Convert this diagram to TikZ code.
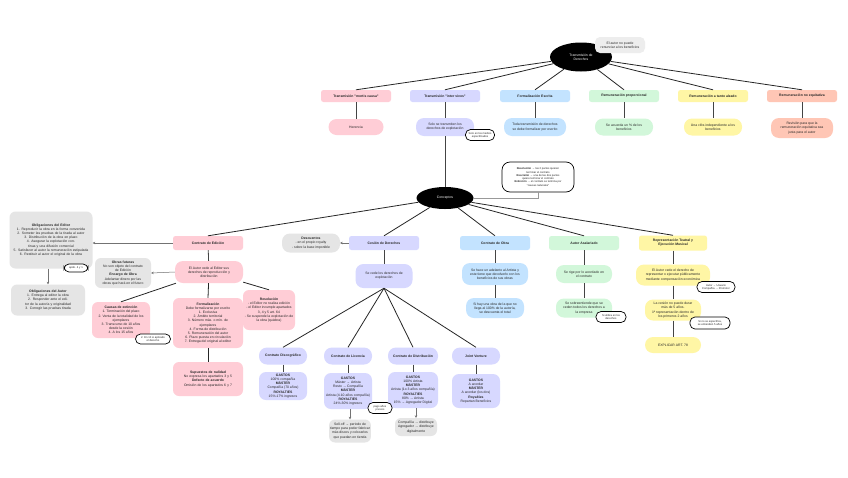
\documentclass[tikz,border=0pt]{standalone}
\usepackage{fontspec}
\setmainfont{Liberation Sans}
\usetikzlibrary{shapes.geometric,arrows.meta}
\definecolor{cpink}{HTML}{FFCDD6}
\definecolor{clav}{HTML}{D7D8FF}
\definecolor{cblue}{HTML}{C3E3FF}
\definecolor{cgreen}{HTML}{D2F7DA}
\definecolor{cyel}{HTML}{FFF6A5}
\definecolor{csal}{HTML}{FFC6B5}
\definecolor{cgray}{HTML}{E5E5E5}
\definecolor{cline}{HTML}{444444}
\begin{document}
\begin{tikzpicture}[x=1pt,y=-1pt,
  every node/.style={font=\fontsize{3.4}{4.2}\selectfont, inner sep=1pt, align=center, text=black!85},
  ttl/.style={rectangle, rounded corners=2.5pt, minimum width=70pt, minimum height=12pt, font=\fontsize{3.4}{4.2}\selectfont\bfseries},
  pill/.style={rectangle, rounded corners=8pt},
  rbox/.style={rectangle, rounded corners=6pt},
  note/.style={rectangle, rounded corners=5pt, draw=black, line width=0.7pt, fill=white, font=\fontsize{2.7}{3.3}\selectfont, inner sep=1pt},
  blk/.style={ellipse, fill=black, text=white},
  ln/.style={draw=black!85, line width=0.8pt},
  gl/.style={draw=cline, line width=0.8pt},
  ar/.style={draw=black!55, line width=0.5pt, -{Stealth[length=2.5pt,width=2.5pt]}},
  kt/.style={pill, fill=clav, minimum width=48pt, minimum height=17pt, font=\fontsize{3.4}{4.2}\selectfont\bfseries},
]
\useasboundingbox (0,0) rectangle (848,477);
\fill[white] (0,0) rectangle (848,477);

% top
\node[blk, minimum width=62pt, minimum height=29pt] (T) at (581,57) {Transmisión de\\Derechos};
\node[rbox, fill=cgray!70, rounded corners=5pt, minimum width=50pt, minimum height=16pt] (N0) at (620,45) {El autor no puede\\renunciar a los beneficios};

% row 2
\node[ttl, fill=cpink] (M) at (356,96) {Transmisión "mortis causa"};
\node[ttl, fill=clav] (I) at (445,96) {Transmisión "inter vivos"};
\node[ttl, fill=cblue] (F) at (535,96) {Formalización Escrita};
\node[ttl, fill=cgreen] (P) at (624,96) {Remuneración proporcional};
\node[ttl, fill=cyel] (A) at (713,96) {Remuneración a tanto alzado};
\node[ttl, fill=csal] (Q) at (802,96) {Remuneración no equitativa};

% row 3
\node[pill, fill=cpink, minimum width=55pt, minimum height=16pt] (M2) at (356,127) {Herencia};
\node[pill, fill=clav, minimum width=58pt, minimum height=18pt] (I2) at (445,127) {Solo se transmiten los\\derechos de explotación};
\node[pill, fill=cblue, minimum width=62pt, minimum height=18pt] (F2) at (535,127) {Toda transmisión de derechos\\se debe formalizar por escrito};
\node[pill, fill=cgreen, minimum width=58pt, minimum height=17pt] (P2) at (624,127) {Se acuerda un \% de los\\beneficios};
\node[pill, fill=cyel, minimum width=58pt, minimum height=17pt] (A2) at (713,127) {Una cifra independiente a los\\beneficios};
\node[pill, fill=csal, minimum width=62pt, minimum height=20pt] (Q2) at (802,128) {Revisión para que la\\remuneración equitativa sea\\justa para el autor};
\node[note, minimum width=29pt, minimum height=11pt] (I2n) at (480,135) {Solo en los medios\\especificados};

\foreach \s in {M,I,F,P,A,Q} \draw[ln] (T) -- (\s.north);
\foreach \s in {M,I,F,P,A,Q} \draw[gl] (\s) -- (\s2);

% conceptos
\node[blk, minimum width=57pt, minimum height=22pt] (C) at (445,198) {Conceptos};
\node[note, rounded corners=8pt, minimum width=72pt, minimum height=30pt] (Cn) at (538,177) {\textbf{Resolución} → las 2 partes quieren\\terminar el contrato\\\textbf{Rescisión} → una de las dos partes\\quiere terminar el contrato\\\textbf{Extinción} → el contrato se termina por\\"causas naturales"};
\draw[draw=black!40, line width=0.6pt] (C.east) -| (Cn.south);
\draw[gl] (I2) -- (C);

% row 4
\node[ttl, fill=cpink, minimum height=14pt] (E) at (208,243) {Contrato de Edición};
\node[ttl, fill=clav, minimum height=14pt] (D) at (384,243) {Cesión de Derechos};
\node[ttl, fill=cblue, minimum height=14pt] (O) at (495,243) {Contrato de Obra};
\node[ttl, fill=cgreen, minimum height=14pt] (S) at (584,243) {Autor Asalariado};
\node[ttl, fill=cyel, minimum width=68pt, minimum height=15pt] (R) at (673,243) {Representación Teatral y\\Ejecución Musical};
\foreach \s in {E,D,O,S,R} \draw[ln] (C) -- (\s.north);

% Edicion
\node[rbox, fill=cgray, minimum width=83pt, minimum height=57pt, text width=76pt] (OE) at (51,240) {\textbf{Obligaciones del Editor}\\1. Reproducir la obra en la forma convenida\\2. Someter las pruebas de la tirada al autor\\3. Distribución de la obra en plazo\\4. Asegurar la explotación continua y una difusión comercial\\5. Satisfacer al autor la remuneración estipulada\\6. Restituir al autor el original de la obra};
\node[note, minimum width=24pt, minimum height=8pt] (OEn) at (76,268) {apdo. 4 y 1};
\node[rbox, fill=cgray, minimum width=74pt, minimum height=31pt, text width=68pt] (OA) at (48,300) {\textbf{Obligaciones del Autor}\\1. Entrega al editor la obra\\2. Responder ante el editor de la autoría y originalidad\\3. Corregir las pruebas tirada};
\draw[ar] (E.west) -- (E.west -| OE.east);
\draw[ar] (OE.south -| OA.north) -- (OA.north);

\node[pill, fill=cpink, minimum width=68pt, minimum height=22pt] (EP) at (209,272) {El Autor cede al Editor sus\\derechos de reproducción y\\distribución};
\node[rbox, fill=cgray, minimum width=56pt, minimum height=30pt] (OF) at (123,273) {\textbf{Obras futuras}\\No son objeto del contrato\\de Edición\\\textbf{Encargo de Obra}\\Adelantar dinero por las\\obras que hará en el futuro};
\draw[gl] (E) -- (EP);
\draw[ar] (EP.west) -- (OF.east);

\node[rbox, fill=cpink, minimum width=58pt, minimum height=36pt] (CE) at (121,320) {\textbf{Causas de extinción}\\1. Terminación del plazo\\2. Venta de la totalidad de los\\ejemplares\\3. Transcurso de 10 años\\desde la cesión\\4. A los 15 años};
\node[note, minimum width=35pt, minimum height=10pt] (CEn) at (153,339) {2. En 10 si aplicado\\el derecho};
\node[rbox, fill=cpink, minimum width=70pt, minimum height=50pt] (FO) at (208,323) {\textbf{Formalización}\\Debe formalizarse por escrito\\1. Exclusiva\\2. Ámbito territorial\\3. Número máx. o mín. de\\ejemplares\\4. Forma de distribución\\5. Remuneración del autor\\6. Plazo puesta en circulación\\7. Entrega del original al editor};
\node[rbox, fill=cpink, minimum width=52pt, minimum height=40pt] (RE) at (269,310) {\textbf{Resolución}\\- el Editor no realiza edición\\- el Editor incumple apartados\\3, 4 y 5 art. 64\\- Se suspende la explotación de\\la obra (quiebra)};
\node[rbox, fill=cpink, minimum width=70pt, minimum height=34pt, text width=66pt] (SN) at (208,379) {\textbf{Supuestos de nulidad}\\No expresa los apartados 3 y 5\\\textbf{Defecto de acuerdo}\\Omisión de los apartados 6 y 7};
\draw[ln] (EP) -- (CE.north);
\draw[ln] (EP) -- (FO.north);
\draw[ln] (EP) -- (RE.north);
\draw[ln] (FO) -- (SN);

% Cesion
\node[pill, fill=cgray, minimum width=58pt, minimum height=19pt] (DE) at (311,243) {\textbf{Descuentos}\\- en el propio royalty\\- sobre la base imponible};
\draw[ar] (D.west) -- (DE.east);
\node[pill, fill=clav, minimum width=57pt, minimum height=24pt] (DP) at (384,276) {Se cede los derechos de\\explotación};
\draw[gl] (D) -- (DP);

\node[kt] (K1) at (283,356) {Contrato Discográfico};
\node[kt] (K2) at (348,356) {Contrato de Licencia};
\node[kt, minimum width=50pt] (K3) at (413,356) {Contrato de Distribución};
\node[kt] (K4) at (476,356) {Joint Venture};
\foreach \s in {K1,K2,K3,K4} \draw[ln] (DP.south) -- (\s.north);

\node[rbox, fill=clav, rounded corners=7pt, minimum width=48pt, minimum height=28pt] (K1b) at (283,386) {\textbf{GASTOS}\\100\% compañía\\\textbf{MÁSTER}\\Compañía (70 años)\\\textbf{ROYALTIES}\\15\%-17\% ingresos};
\node[rbox, fill=clav, rounded corners=7pt, minimum width=48pt, minimum height=36pt] (K2b) at (348,391) {\textbf{GASTOS}\\Máster → Artista\\Resto → Compañía\\\textbf{MÁSTER}\\Artista (4-10 años compañía)\\\textbf{ROYALTIES}\\24\%-30\% ingresos};
\node[rbox, fill=clav, rounded corners=7pt, minimum width=50pt, minimum height=36pt] (K3b) at (413,390) {\textbf{GASTOS}\\100\% Artista\\\textbf{MÁSTER}\\Artista (1o 3 años compañía)\\\textbf{ROYALTIES}\\80\% → Artista\\15\% → Agregador Digital};
\node[rbox, fill=clav, rounded corners=7pt, minimum width=48pt, minimum height=34pt] (K4b) at (476,391) {\textbf{GASTOS}\\A acordar\\\textbf{MÁSTER}\\A acordar (los dos)\\\textbf{Royalties}\\Repartan Beneficios};
\foreach \s in {K1,K2,K3,K4} \draw[gl] (\s) -- (\s b);
\node[note, minimum width=24pt, minimum height=11pt] (K2n) at (380,408) {pago años\\previos};
\node[rbox, fill=cgray, minimum width=40pt, minimum height=23pt] (K2g) at (350,431) {Sell-off → periodo de\\tiempo para poder fabricar\\más discos y colocarlos\\que puedan en tienda};
\node[rbox, fill=cgray, minimum width=42pt, minimum height=18pt] (K3g) at (416,427) {Compañía → distribuye\\Agregador → distribuye\\digitalmente};
\draw[ar] (K2b.south -| K2g.north) -- (K2g.north);
\draw[ar] (K3b.south -| K3g.north) -- (K3g.north);

% Obra
\node[pill, fill=cblue, minimum width=66pt, minimum height=22pt] (O1) at (495,274) {Se hace un adelanto al Artista y\\este tiene que devolverlo con los\\beneficios de sus obras};
\node[pill, fill=cblue, minimum width=58pt, minimum height=20pt] (O2) at (495,308) {Si hay una obra de la que no\\llega al 100\% de la autoría,\\se descuenta el total};
\draw[gl] (O) -- (O1);
\draw[gl] (O1) -- (O2);

% Asalariado
\node[pill, fill=cgreen, minimum width=56pt, minimum height=18pt] (S1) at (584,274) {Se rige por lo acordado en\\el contrato};
\node[pill, fill=cgreen, minimum width=56pt, minimum height=19pt] (S2) at (584,308) {Se sobreentiende que se\\ceden todos los derechos a\\la empresa};
\draw[gl] (S) -- (S1);
\draw[gl] (S1) -- (S2);
\node[note, minimum width=30pt, minimum height=11pt] (S2n) at (611,317) {Si utiliza en los\\derechos};

% Representacion
\node[pill, fill=cyel, minimum width=74pt, minimum height=21pt] (R1) at (673,275) {El Autor cede el derecho de\\representar o ejecutar públicamente\\mediante compensación económica};
\node[pill, fill=cyel, minimum width=56pt, minimum height=21pt] (R2) at (673,310) {La cesión no puede durar\\más de 5 años.\\1ª representación dentro de\\los primeros 2 años};
\node[pill, fill=cyel, minimum width=56pt, minimum height=16pt] (R3) at (673,345) {EXPLICAR ART. 78};
\draw[gl] (R) -- (R1);
\draw[gl] (R1) -- (R2);
\draw[gl] (R2) -- (R3);
\node[note, minimum width=38pt, minimum height=11pt] (R1n) at (716,287) {Autor → Usuario\\Compañía → Promotor};
\node[note, minimum width=40pt, minimum height=12pt] (R2n) at (710,323) {Si no se especifica,\\se entienden 5 años};
\end{tikzpicture}
\end{document}
